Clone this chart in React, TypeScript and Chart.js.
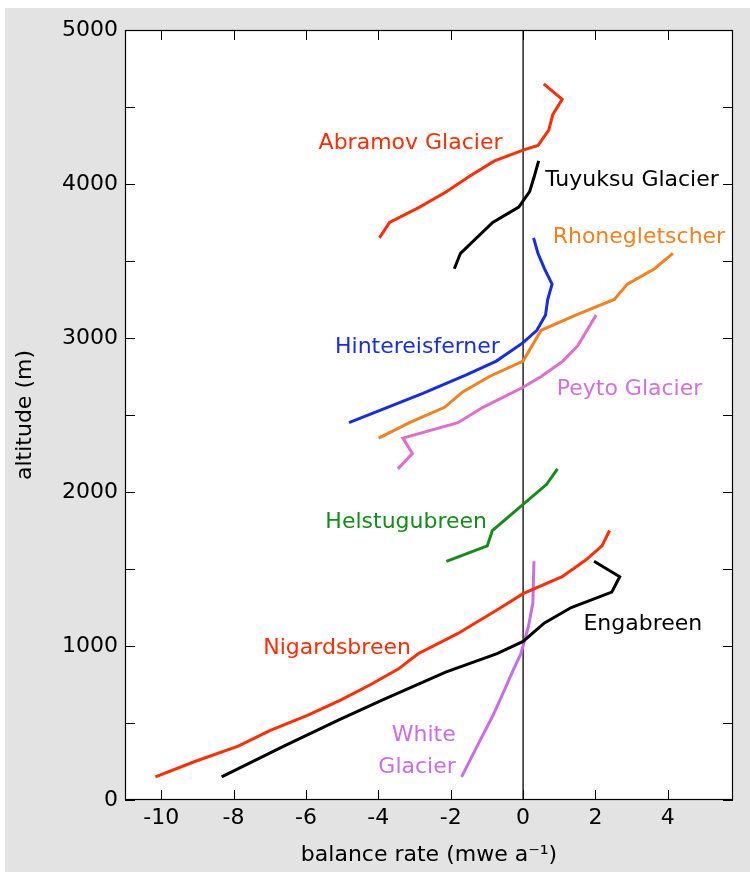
import React, { useEffect, useRef } from 'react';
import { Chart, registerables } from 'chart.js';

Chart.register(...registerables);

const FONT = '"DejaVu Sans", "Liberation Sans", sans-serif';

// ---- axes ----
const xTickValues = [-10, -8, -6, -4, -2, 0, 2, 4];
const yTickValues = [0, 500, 1000, 1500, 2000, 2500, 3000, 3500, 4000, 4500, 5000];
const yLabelledTicks = [0, 1000, 2000, 3000, 4000, 5000];

// ---- glacier names ----
const glacierNames = [
  'Abramov Glacier',
  'Tuyuksu Glacier',
  'Rhonegletscher',
  'Hintereisferner',
  'Peyto Glacier',
  'Helstugubreen',
  'Nigardsbreen',
  'Engabreen',
  'White Glacier',
];

// ---- data (balance rate mwe/a, altitude m) ----
const abramovBalance = [-3.97, -3.69, -2.86, -2.12, -1.48, -0.79, 0, 0.41, 0.71, 0.82, 1.08, 0.57];
const abramovAltitude = [3650, 3750, 3850, 3950, 4050, 4150, 4220, 4250, 4350, 4450, 4550, 4650];

const tuyuksuBalance = [-1.9, -1.73, -0.84, -0.12, 0.18, 0.31, 0.43];
const tuyuksuAltitude = [3450, 3550, 3750, 3850, 3950, 4050, 4150];

const rhoneBalance = [-3.99, -3.14, -2.17, -1.67, -0.93, 0, 0.5, 1.47, 2.52, 2.88, 3.63, 4.14];
const rhoneAltitude = [2350, 2450, 2550, 2650, 2750, 2850, 3050, 3150, 3250, 3350, 3450, 3550];

const hintereisBalance = [-4.81, -2.77, -1.57, -0.74, 0, 0.38, 0.62, 0.68, 0.8, 0.59, 0.41, 0.29];
const hintereisAltitude = [2450, 2640, 2760, 2850, 2970, 3050, 3150, 3250, 3350, 3450, 3550, 3650];

const peytoBalance = [-3.46, -3.06, -3.32, -1.8, -1.11, 0, 0.5, 1.1, 1.51, 2.02];
const peytoAltitude = [2150, 2250, 2350, 2450, 2550, 2680, 2750, 2850, 2950, 3150];

const helstugubreenBalance = [-2.12, -0.99, -0.85, 0, 0.65, 0.95];
const helstugubreenAltitude = [1550, 1650, 1750, 1920, 2050, 2150];

const nigardsbreenBalance = [-10.16, -9.07, -7.87, -7.0, -5.96, -5.03, -4.21, -3.45, -2.9, -1.81, -0.61, 0, 1.08, 1.74, 2.18, 2.39];
const nigardsbreenAltitude = [150, 250, 350, 450, 550, 650, 750, 850, 950, 1080, 1250, 1340, 1450, 1560, 1650, 1750];

const engabreenBalance = [-8.33, -6.61, -5.09, -3.88, -2.14, -0.72, 0, 0.59, 1.33, 2.45, 2.67, 1.96];
const engabreenAltitude = [150, 350, 520, 650, 830, 950, 1030, 1150, 1250, 1350, 1450, 1550];

const whiteBalance = [-1.7, -1.27, -0.83, -0.56, -0.28, -0.06, 0.15, 0.27, 0.3];
const whiteAltitude = [150, 350, 550, 690, 840, 950, 1130, 1280, 1550];

// ---- colours ----
const RED = 'rgb(255,45,0)';
const BLACK = '#000000';
const ORANGE = 'rgb(245,128,28)';
const BLUE = 'rgb(22,45,228)';
const PINK_LINE = 'rgb(226,108,204)';
const PINK_TEXT = 'rgb(210,112,224)';
const GREEN = 'rgb(20,140,25)';
const PURPLE = 'rgb(200,110,232)';

const seriesList = [
  { name: glacierNames[0], balance: abramovBalance, altitude: abramovAltitude, color: RED },
  { name: glacierNames[1], balance: tuyuksuBalance, altitude: tuyuksuAltitude, color: BLACK },
  { name: glacierNames[2], balance: rhoneBalance, altitude: rhoneAltitude, color: ORANGE },
  { name: glacierNames[3], balance: hintereisBalance, altitude: hintereisAltitude, color: BLUE },
  { name: glacierNames[4], balance: peytoBalance, altitude: peytoAltitude, color: PINK_LINE },
  { name: glacierNames[5], balance: helstugubreenBalance, altitude: helstugubreenAltitude, color: GREEN },
  { name: glacierNames[6], balance: nigardsbreenBalance, altitude: nigardsbreenAltitude, color: RED },
  { name: glacierNames[7], balance: engabreenBalance, altitude: engabreenAltitude, color: BLACK },
  { name: glacierNames[8], balance: whiteBalance, altitude: whiteAltitude, color: PURPLE },
];

// label anchors in data coordinates (first line)
const labelPlacements = [
  { lines: ['Abramov Glacier'], x: -3.11, y: 4266, align: 'center', color: RED },
  { lines: ['Tuyuksu Glacier'], x: 3.01, y: 4026, align: 'center', color: BLACK },
  { lines: ['Rhonegletscher'], x: 3.2, y: 3656, align: 'center', color: ORANGE },
  { lines: ['Hintereisferner'], x: -2.92, y: 2942, align: 'center', color: BLUE },
  { lines: ['Peyto Glacier'], x: 2.94, y: 2669, align: 'center', color: PINK_TEXT },
  { lines: ['Helstugubreen'], x: -3.23, y: 1805, align: 'center', color: GREEN },
  { lines: ['Nigardsbreen'], x: -5.14, y: 987, align: 'center', color: RED },
  { lines: ['Engabreen'], x: 3.31, y: 1143, align: 'center', color: BLACK },
  { lines: ['White', 'Glacier'], x: -1.86, y: 422, align: 'right', color: PURPLE },
];

const chartPlugin = {
  id: 'glacierDecor',
  beforeDraw(chart: any) {
    const { ctx, chartArea } = chart;
    const { left, top, right, bottom } = chartArea;
    ctx.save();
    ctx.fillStyle = '#ffffff';
    ctx.fillRect(left, top, right - left, bottom - top);
    ctx.restore();
  },
  afterDraw(chart: any) {
    const { ctx, chartArea, scales } = chart;
    const { left, top, right, bottom } = chartArea;
    const xs = scales.x;
    const ys = scales.y;
    ctx.save();
    // frame
    ctx.strokeStyle = '#000';
    ctx.lineWidth = 1.2;
    ctx.strokeRect(left + 0.5, top + 0.5, right - left - 1, bottom - top - 1);
    // ticks
    ctx.lineWidth = 1;
    ctx.beginPath();
    const tl = 10;
    xTickValues.forEach((v) => {
      const px = Math.round(xs.getPixelForValue(v)) + 0.5;
      ctx.moveTo(px, bottom);
      ctx.lineTo(px, bottom - tl);
      ctx.moveTo(px, top);
      ctx.lineTo(px, top + tl);
    });
    yTickValues.forEach((v) => {
      const py = Math.round(ys.getPixelForValue(v)) + 0.5;
      ctx.moveTo(left, py);
      ctx.lineTo(left + tl, py);
      ctx.moveTo(right, py);
      ctx.lineTo(right - tl, py);
    });
    ctx.stroke();
    // labels
    ctx.font = '22px ' + FONT;
    ctx.textBaseline = 'middle';
    labelPlacements.forEach((lab) => {
      const px = xs.getPixelForValue(lab.x);
      const py = ys.getPixelForValue(lab.y);
      ctx.fillStyle = lab.color;
      ctx.textAlign = lab.align as CanvasTextAlign;
      lab.lines.forEach((line, i) => {
        ctx.fillText(line, px, py + i * 32);
      });
    });
    ctx.restore();
  },
};

export default function App() {
  const canvasRef = useRef<HTMLCanvasElement | null>(null);

  useEffect(() => {
    const canvas = canvasRef.current;
    if (!canvas) return;

    const datasets: any[] = seriesList.map((s) => ({
      label: s.name,
      data: s.balance.map((b, i) => ({ x: b, y: s.altitude[i] })),
      borderColor: s.color,
      backgroundColor: s.color,
      borderWidth: 3,
      pointRadius: 0,
      showLine: true,
      fill: false,
      tension: 0,
    }));
    datasets.push({
      label: 'zero',
      data: [
        { x: 0, y: 0 },
        { x: 0, y: 5000 },
      ],
      borderColor: '#000',
      borderWidth: 1.3,
      pointRadius: 0,
      showLine: true,
      fill: false,
    });

    const chart = new Chart(canvas, {
      type: 'scatter',
      data: { datasets },
      options: {
        animation: false,
        responsive: false,
        devicePixelRatio: 1,
        layout: { padding: { left: 0, top: 22, right: 17, bottom: 0 } },
        plugins: {
          legend: { display: false },
          tooltip: { enabled: false },
        },
        scales: {
          x: {
            type: 'linear',
            min: -11,
            max: 5.8,
            grid: { display: false, drawTicks: false },
            border: { display: false },
            afterBuildTicks: (scale: any) => {
              scale.ticks = xTickValues.map((v) => ({ value: v }));
            },
            afterFit: (scale: any) => {
              scale.height = 72;
            },
            ticks: {
              color: '#000',
              padding: 5,
              maxRotation: 0,
              autoSkip: false,
              font: { family: FONT, size: 22 },
              callback: (v: any) => String(v),
            },
            title: {
              display: true,
              text: 'balance rate (mwe a\u207B\u00B9)',
              color: '#000',
              font: { family: FONT, size: 22 },
              padding: { top: 4, bottom: 4 },
            },
          },
          y: {
            type: 'linear',
            min: 0,
            max: 5000,
            grid: { display: false, drawTicks: false },
            border: { display: false },
            afterBuildTicks: (scale: any) => {
              scale.ticks = yTickValues.map((v) => ({ value: v }));
            },
            afterFit: (scale: any) => {
              scale.width = 120;
            },
            ticks: {
              color: '#000',
              padding: 7,
              autoSkip: false,
              font: { family: FONT, size: 22 },
              callback: (v: any) => (yLabelledTicks.includes(Number(v)) ? String(v) : ''),
            },
            title: {
              display: true,
              text: 'altitude (m)',
              color: '#000',
              font: { family: FONT, size: 22 },
              padding: { top: 7, bottom: 4 },
            },
          },
        },
      },
      plugins: [chartPlugin],
    } as any);

    return () => {
      chart.destroy();
    };
  }, []);

  return (
    <div
      style={{
        position: 'absolute',
        left: 5,
        top: 8,
        width: 745,
        height: 864,
        background: '#e2e3e2',
      }}
    >
      <canvas ref={canvasRef} width={745} height={864} style={{ display: 'block' }} />
    </div>
  );
}
